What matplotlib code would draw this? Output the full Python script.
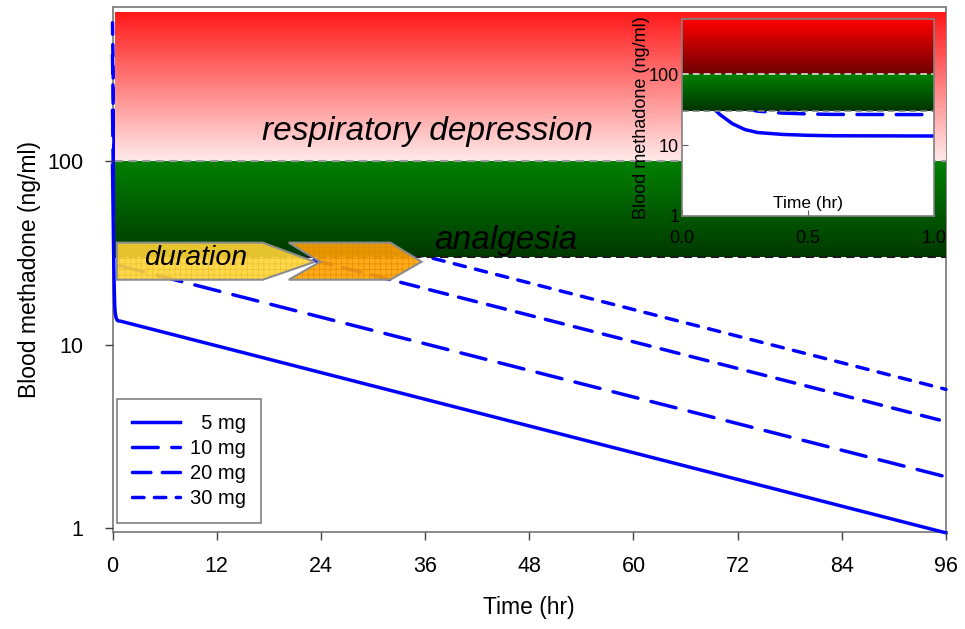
import numpy as np
import matplotlib.pyplot as plt
from matplotlib.patches import Polygon, Rectangle

plt.rcParams['font.family'] = ['Liberation Sans', 'DejaVu Sans']

# blood methadone (ng/ml) after a single dose
hours = [0, 0.05, 0.1, 0.15, 0.2, 0.25, 0.3, 0.4, 0.5, 0.6, 1.0, 96]
conc_5mg = [95, 62, 40, 27, 20, 16.5, 15, 14.1, 13.7, 13.5, 13.4, 0.94]
conc_10mg = [190, 124, 80, 54, 40, 33, 30, 28.2, 27.4, 27, 26.8, 1.9]
conc_20mg = [380, 248, 160, 108, 80, 66, 60, 56.4, 54.8, 54, 53.6, 3.8]
conc_30mg = [570, 372, 240, 162, 120, 99, 90, 84.6, 82.2, 81, 80.4, 5.7]
dose_labels = ['  5 mg', '10 mg', '20 mg', '30 mg']

# effect zones (ng/ml)
resp_depression = (100, 650)
analgesia = (30, 100)
zone_hours = (0.3, 96)

# duration arrows (hr) and their band (ng/ml)
duration_hr = (0.5, 17.3, 23.3)
extra_hr = (20.3, 23.9, 32.0, 35.6)
arrow_conc = (22.6, 28.3, 36.0)

x_ticks = [0, 12, 24, 36, 48, 60, 72, 84, 96]

BLUE = '#0000ff'
line_styles = ['-', (0, (7.4, 3.9)), (0, (5.3, 3.3)), (0, (3.3, 3.0))]
series = [conc_5mg, conc_10mg, conc_20mg, conc_30mg]


def gradient_zone(ax, x0, x1, lo, hi, c_lo, c_hi, n=120, z=1.6):
    edges = np.geomspace(lo, hi, n + 1)
    c_lo, c_hi = np.array(c_lo), np.array(c_hi)
    for i in range(n):
        f = i / (n - 1)
        ax.add_patch(Rectangle((x0, edges[i]), x1 - x0, edges[i + 1] - edges[i],
                               facecolor=c_lo + f * (c_hi - c_lo), lw=0,
                               antialiased=False, zorder=z))


fig = plt.figure(figsize=(9.65, 6.29), dpi=100)
ax = fig.add_axes([0.1166, 0.1542, 0.8637, 0.8347])
ax.set_yscale('log')
ax.set_xlim(0, 96)
ax.set_ylim(0.95, 695)

for vals, ls, lab in zip(series, line_styles, dose_labels):
    ax.plot(hours, vals, ls=ls, color=BLUE, lw=2.5, dash_capstyle='round',
            label=lab, zorder=1.5, clip_on=False)

gradient_zone(ax, *zone_hours, *resp_depression, (1, 0.92, 0.92), (1, 0.1, 0.1))
gradient_zone(ax, *zone_hours, *analgesia, (0, 0.22, 0), (0, 0.5, 0))
ax.plot(zone_hours, [100, 100], ls=(0, (4, 2.5)), color='#9a9a9a', lw=1.5, zorder=2)
ax.plot(zone_hours, [30, 30], ls=(0, (4, 2.5)), color='#1a1a1a', lw=1.5, zorder=2)

lo, mid, hi = arrow_conc
a0, a1, a2 = duration_hr
yellow = [(a0, lo), (a0, hi), (a1, hi), (a2, mid), (a1, lo)]
b0, b1, b2, b3 = extra_hr
orange = [(b0, lo), (b1, mid), (b0, hi), (b2, hi), (b3, mid), (b2, lo)]
plt.rcParams['hatch.linewidth'] = 0.5
for pts, col, hcol in [(yellow, '#ffd43a', '#e8c020'), (orange, '#ffa200', '#e08800')]:
    ax.add_patch(Polygon(pts, closed=True, facecolor=col, alpha=0.9,
                         edgecolor=hcol, hatch='+++', lw=0, zorder=3))
    ax.add_patch(Polygon(pts, closed=True, facecolor='none',
                         edgecolor='#8c8c8c', lw=1.5, zorder=3.1))

ax.text(36.3, 146, 'respiratory depression', fontsize=24, style='italic',
        ha='center', va='center', zorder=4)
ax.text(45.3, 37, 'analgesia', fontsize=24, style='italic',
        ha='center', va='center', zorder=4)
ax.text(9.6, 29.6, 'duration', fontsize=20.5, style='italic',
        ha='center', va='center', zorder=4)

ax.set_xticks(x_ticks)
ax.set_yticks([1, 10, 100])
ax.set_yticklabels(['1', '10', '100'])
ax.minorticks_off()
ax.tick_params(labelsize=15.5, length=6, width=1, color='#404040')
ax.tick_params(axis='x', pad=11)
ax.tick_params(axis='y', pad=15)
for s in ax.spines.values():
    s.set_color('#808080')
    s.set_linewidth(1.3)
    s.set_zorder(1)
ax.set_xlabel('Time (hr)', fontsize=16.5)
ax.set_ylabel('Blood methadone (ng/ml)', fontsize=16.5)
ax.xaxis.set_label_coords(0.5, -0.143)
ax.xaxis.label.set_va('center')
ax.yaxis.set_label_coords(-0.1, 0.5)
ax.yaxis.label.set_va('center')

leg = ax.legend(loc='lower left', bbox_to_anchor=(0.005, 0.017), fontsize=14.5,
                fancybox=False, edgecolor='#808080', framealpha=1,
                handlelength=2.4, handletextpad=0.5, borderaxespad=0,
                labelspacing=0.3, borderpad=0.75)
leg.set_zorder(5)
leg.get_frame().set_linewidth(1.2)

# inset: first hour
axin = fig.add_axes([0.7067, 0.6566, 0.2611, 0.3124])
axin.set_yscale('log')
axin.set_xlim(0, 1)
axin.set_ylim(1, 587)
for vals, ls in zip(series, line_styles):
    axin.plot(hours, vals, ls=ls, color=BLUE, lw=2.5, dash_capstyle='round', zorder=1.5)
gradient_zone(axin, 0, 1, 100, 587, (0.43, 0, 0), (1, 0, 0))
gradient_zone(axin, 0, 1, *analgesia, (0, 0.2, 0), (0, 0.5, 0))
axin.plot([0, 1], [100, 100], ls=(0, (4, 2.5)), color='#e0e0e0', lw=1.2, zorder=2)
axin.plot([0, 1], [30, 30], ls=(0, (4, 2.5)), color='#808080', lw=1.2, zorder=2)
axin.set_xticks([0, 0.5, 1.0])
axin.set_xticklabels(['0.0', '0.5', '1.0'])
axin.set_yticks([1, 10, 100])
axin.set_yticklabels(['1', '10', '100'])
axin.minorticks_off()
axin.tick_params(labelsize=13, direction='in', length=4, color='#606060')
axin.tick_params(axis='x', pad=10)
axin.tick_params(axis='y', pad=2)
for s in axin.spines.values():
    s.set_color('#808080')
    s.set_linewidth(1.2)
axin.text(0.5, 0.062, 'Time (hr)', transform=axin.transAxes, fontsize=12.5,
          ha='center', va='center')
axin.set_ylabel('Blood methadone (ng/ml)', fontsize=13)
axin.yaxis.set_label_coords(-0.16, 0.5)
axin.yaxis.label.set_va('center')

fig.savefig('out.png', dpi=100)
